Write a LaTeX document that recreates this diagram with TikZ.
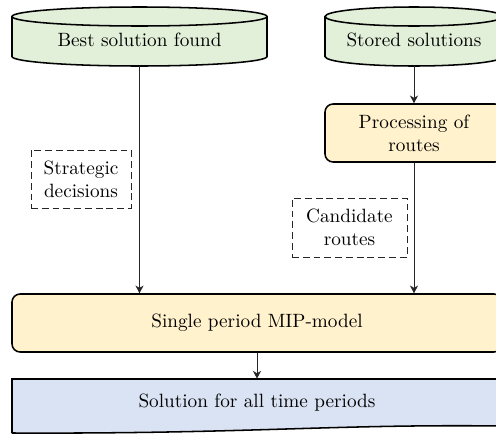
\documentclass[tikz,border=0pt]{standalone}
\usetikzlibrary{arrows.meta,fit}

\definecolor{storegreen}{HTML}{E2F0D9}
\definecolor{procyellow}{HTML}{FFF2CC}
\definecolor{docblue}{HTML}{DAE3F3}

% Data-store cylinder: left x, right x, top-ellipse centre y, bottom-ellipse centre y, y radius
\newcommand\drawstorecyl[5]{%
  \pgfmathsetmacro\cylcx{(#1+#2)/2}%
  \pgfmathsetmacro\cylkx{0.5523*(#2-#1)/2}%
  \pgfmathsetmacro\cylky{0.5523*#5}%
  \filldraw[cylline, fill=storegreen]
    (#1,#3) -- (#1,#4)
    .. controls (#1,{#4+\cylky}) and ({\cylcx-\cylkx},{#4+#5}) .. (\cylcx,{#4+#5})
    .. controls ({\cylcx+\cylkx},{#4+#5}) and (#2,{#4+\cylky}) .. (#2,#4)
    -- (#2,#3)
    .. controls (#2,{#3-\cylky}) and ({\cylcx+\cylkx},{#3-#5}) .. (\cylcx,{#3-#5})
    .. controls ({\cylcx-\cylkx},{#3-#5}) and (#1,{#3-\cylky}) .. (#1,#3) -- cycle;
  \draw[cylline]
    (#1,#3) .. controls (#1,{#3+\cylky}) and ({\cylcx-\cylkx},{#3+#5}) .. (\cylcx,{#3+#5})
    .. controls ({\cylcx+\cylkx},{#3+#5}) and (#2,{#3+\cylky}) .. (#2,#3);
}

\begin{document}
\begin{tikzpicture}[x=0.52pt, y=-0.52pt,
  cylline/.style={line width=0.8pt, black},
  area/.style={inner sep=0pt},
  label text/.style={inner sep=0pt, align=center, font=\normalsize},
  procbox/.style={area, draw=black, line width=0.8pt, fill=procyellow, rounded corners=4.2pt},
  notebox/.style={area, draw=black!85, line width=0.5pt, dash pattern=on 3.6pt off 2pt},
  flow/.style={draw=black!85, line width=0.45pt, -{Stealth[length=4pt, width=4.2pt, inset=1.2pt]}}]

\useasboundingbox (0,0) rectangle (496,434);
\clip (0,0) rectangle (496,434);

% data stores
\drawstorecyl{12}{267}{16.5}{56.5}{9.5}
\drawstorecyl{325}{503}{16.5}{56.5}{9.5}
\node[area, fit={(12,14) (267,66)}] (best) {};
\node[area, fit={(325,14) (503,66)}] (stored) {};
\node[label text] (best-t) at (best.center) {Best solution found};
\node[label text] (stored-t) at (stored.center) {Stored solutions};

% processing steps
\node[procbox, fit={(325,104) (503,162)}] (proc) {};
\node[label text] (proc-t) at (proc.center) {Processing of\\routes};
\node[procbox, fit={(12,294) (502,352)}] (mip) {};
\node[label text] (mip-t) at (mip.center) {Single period MIP-model};

% result document with wavy lower edge
\node[area, fit={(12,379) (502,426)}] (sol) {};
\fill[docblue] (12,379) -- (502,379) -- (502,426)
  .. controls (330,424) and (250,434) .. (12,433) -- cycle;
\draw[line width=0.8pt] (12,433) -- (12,379) -- (502,379) -- (502,426)
  .. controls (330,424) and (250,434) .. (12,433);
\node[label text] (sol-t) at (sol.center) {Solution for all time periods};

% flow annotations
\node[notebox, fit={(31,150) (131,208)}] (strat) {};
\node[label text] (strat-t) at (strat.center) {Strategic\\decisions};
\node[notebox, fit={(292,198) (407,257)}] (cand) {};
\node[label text] (cand-t) at (cand.center) {Candidate\\routes};

% connectors
\draw[flow] (stored.south) -- (proc.north);
\draw[flow] (best.south) -- (best.south |- mip.north);
\draw[flow] (proc.south) -- (proc.south |- mip.north);
\draw[flow] (mip.south) -- (sol.north);
\end{tikzpicture}
\end{document}
